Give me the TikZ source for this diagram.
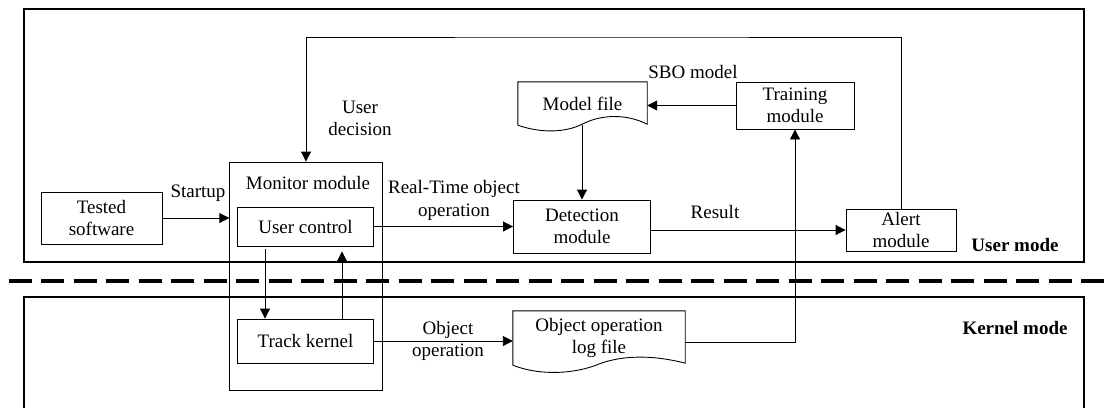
\documentclass[tikz,border=0pt]{standalone}
\usepackage{fontspec}
\setmainfont{Liberation Serif}
\usetikzlibrary{arrows.meta,calc}
\begin{document}
\begin{tikzpicture}[x=1pt,y=-1pt,
  every node/.style={font=\fontsize{19}{22.5}\selectfont, inner sep=0pt, align=center},
  box/.style={draw, line width=0.9pt, rectangle},
  frame/.style={draw, line width=2pt},
  lbl/.style={},
  arr/.style={draw, line width=0.9pt, -{Triangle[length=10pt,width=10pt]}},
  ln/.style={draw, line width=0.9pt},
  modelabel/.style={font=\fontsize{19}{22.5}\selectfont\bfseries}
]
\useasboundingbox (0,0) rectangle (1110,408);
% frames
\draw[frame] (23.6,9) rectangle (1083.6,262);
\draw[frame] (23.6,408) -- (23.6,297) -- (1083.6,297) -- (1083.6,408);
\draw[line width=3.5pt, dash pattern=on 23pt off 9.5pt] (8.6,281) -- (1115,281);
% nodes
\node[box, minimum width=121pt, minimum height=52pt] (tested) at (101.5,218) {Tested\\software};
\node[box, minimum width=152.5pt, minimum height=228pt] (monitor) at (306,276) {};
\node (montitle) at (308,183) {Monitor module};
\node[box, minimum width=136pt, minimum height=39pt] (uctrl) at (305.5,226.5) {User control};
\node[box, minimum width=136pt, minimum height=44pt] (track) at (305.5,341) {Track kernel};
\node[box, minimum width=110pt, minimum height=42pt] (alert) at (901,230) {Alert\\module};
\node[box, minimum width=118pt, minimum height=47pt] (training) at (795,105.5) {Training\\module};
\node[box, minimum width=137pt, minimum height=53pt] (detect) at (582,226.5) {Detection\\module};
% model file (document shape)
\node[minimum width=129pt, minimum height=43pt] (model) at (582.5,103.5) {Model file};
\draw[ln] (model.south west) -- (model.north west) -- (model.north east) -- ([yshift=1pt]model.south east)
  .. controls (625,113) and (600,115) .. (582.5,124) .. controls (565,133) and (540,133) .. (model.south west);
% log file (document shape)
\node[minimum width=172pt, minimum height=54pt] (logfile) at (599,338) {Object operation\\log file};
\draw[ln] (logfile.south west) -- (logfile.north west) -- (logfile.north east) -- ([yshift=2pt]logfile.south east)
  .. controls (650,354) and (620,356) .. (599,364) .. controls (575,374) and (540,376) .. (logfile.south west);
% labels
\node (startup) at (198,193) {Startup};
\node (udec) at (360,118.5) {User\\decision};
\node (rto) at (454,200.5) {Real-Time object\\operation};
\node (result) at (715,212) {Result};
\node (sbo) at (693,72) {SBO model};
\node (objop) at (448,341) {Object\\operation};
\node[modelabel] (umode) at (1015,245) {User mode};
\node[modelabel] (kmode) at (1015,328) {Kernel mode};
% connectors
\draw[arr] (tested.east) -- (tested.east -| monitor.west);
\coordinate (ret) at (600,37);
\draw[arr] (alert.north) |- (ret) -| (monitor.north);
\draw[arr] (uctrl.east) -- (detect.west);
\draw[arr] (alert.west -| detect.east) -- (alert.west);
\draw[arr] (training.west) -- (training.west -| model.east);
\draw[arr] (582,125) -- (detect.north);
\draw[arr, shorten <=3pt] ([xshift=-40.5pt]uctrl.south) -- ([xshift=-40.5pt]track.north);
\draw[arr, shorten >=5pt] ([xshift=36.5pt]track.north) -- ([xshift=36.5pt]uctrl.south);
\draw[arr] (track.east) -- (track.east -| logfile.west);
\draw[arr] ([yshift=-4pt]logfile.east) -| (training.south);
\end{tikzpicture}
\end{document}
